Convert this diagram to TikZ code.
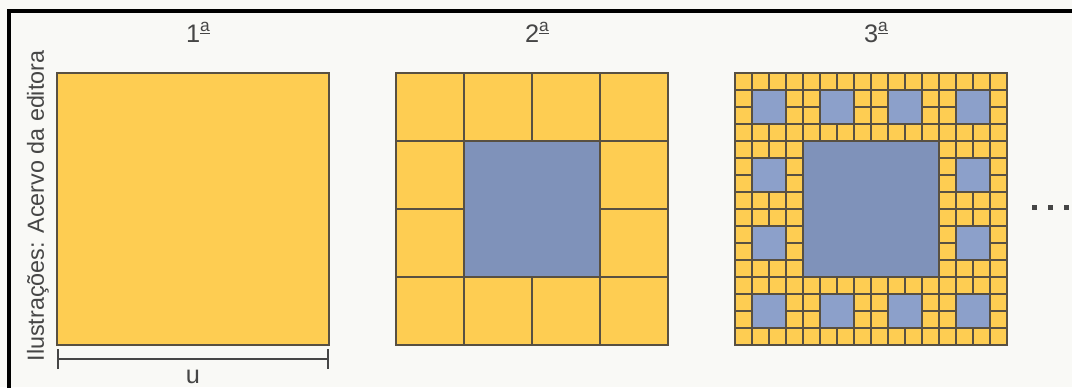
\documentclass[tikz,border=0pt]{standalone}
\usepackage{fontspec}
\setmainfont{Liberation Sans}
\usepackage{tikz}
\usetikzlibrary{arrows.meta}

\definecolor{sqyellow}{RGB}{254,205,82}
\definecolor{sqblue}{RGB}{127,146,186}
\definecolor{sqbluelt}{RGB}{140,160,202}
\definecolor{gridline}{RGB}{88,80,66}
\definecolor{paper}{RGB}{249,249,246}
\definecolor{ink}{RGB}{70,70,70}

\newcommand{\ordA}{\raisebox{0.42em}{\fontsize{13}{13}\selectfont\underline{a}}}

\tikzset{
  cell/.style={fill=sqyellow, draw=gridline, line width=1.4pt},
  hole/.style={fill=sqblue},
  smallhole/.style={fill=sqbluelt},
  steptext/.style={inner sep=0pt, text=ink, font=\fontsize{19}{22}\selectfont},
  credittext/.style={inner sep=0pt, text=ink, font=\fontsize{17.5}{20}\selectfont}
}

\begin{document}
\begin{tikzpicture}[x=0.75pt,y=0.75pt,yscale=-1,xscale=1]
\useasboundingbox (0,0) rectangle (1072,387);
\clip (0,0) rectangle (1072,387);
\fill[paper] (0,0) rectangle (1072,387);

% frame
\draw[black, line width=2.4pt] (9,390) -- (9,11) -- (1075,11);

% 1st square
\draw[cell] (57,73) rectangle (329,345);
\coordinate (ua) at (57,359);
\coordinate (ub) at (329,359);
\draw[ink, line width=1.5pt, {Bar[width=15pt]}-{Bar[width=15pt]}] (ua) -- (ub);

% 2nd square
\foreach \i in {0,...,3}
  \foreach \j in {0,...,3}
    \draw[cell] ({396+68*\i},{73+68*\j}) rectangle ++(68,68);
\fill[hole] (465,142) rectangle (599,276);

% 3rd square
\foreach \i in {0,...,15}
  \foreach \j in {0,...,15}
    \draw[cell] ({735+17*\i},{73+17*\j}) rectangle ++(17,17);
\fill[hole] (804,142) rectangle (938,276);
\foreach \a/\b in {0/0,1/0,2/0,3/0,0/1,3/1,0/2,3/2,0/3,1/3,2/3,3/3}
  \fill[smallhole] ({753+68*\a},{91+68*\b}) rectangle ++(32,32);

% dots
\foreach \k in {0,1,2}
  \fill[ink] ({1032+16*\k},205) rectangle ++(5,5);

% Text Node
\node[steptext, anchor=base] (first) at (198,42) {1\ordA};
% Text Node
\node[steptext, anchor=base] (second) at (537,42) {2\ordA};
% Text Node
\node[steptext, anchor=base] (third) at (876,42) {3\ordA};
% Text Node
\node[steptext, anchor=base] (unit) at (193,383) {u};
% Text Node
\node[credittext, rotate=90] (credit) at (38,206) {Ilustrações: Acervo da editora};

\end{tikzpicture}
\end{document}
